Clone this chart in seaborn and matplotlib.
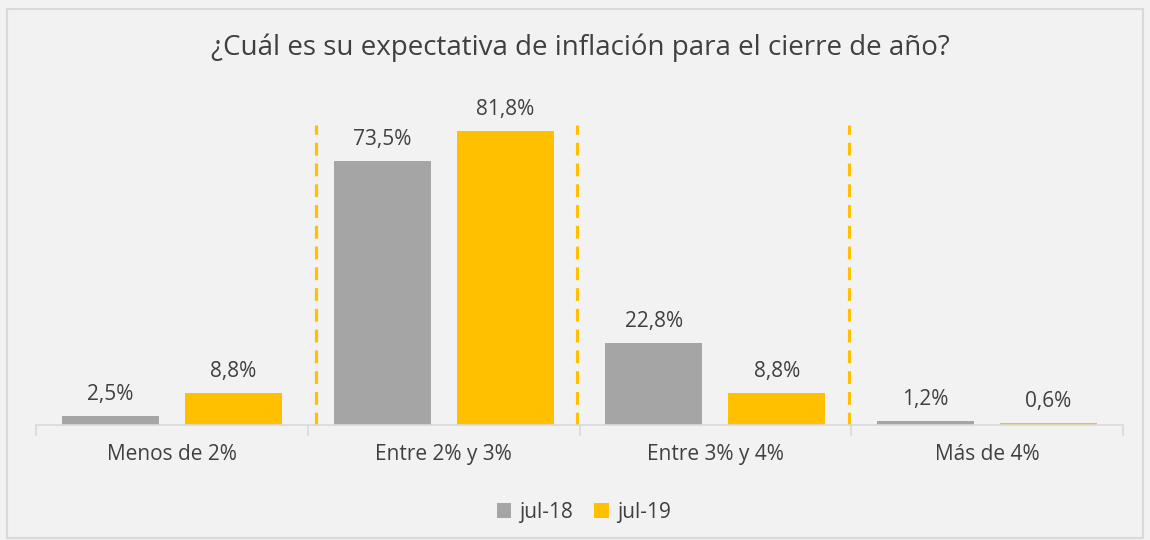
import pandas as pd
import seaborn as sns
import matplotlib.pyplot as plt
from matplotlib.patches import Rectangle

categories = ["Menos de 2%", "Entre 2% y 3%", "Entre 3% y 4%", "Más de 4%"]
periods = ["jul-18", "jul-19"]
jul18 = [2.5, 73.5, 22.8, 1.2]
jul19 = [8.8, 81.8, 8.8, 0.6]
separators = [0.53, 1.49, 2.49]

data = pd.DataFrame({
    "categoria": categories * 2,
    "periodo": [periods[0]] * 4 + [periods[1]] * 4,
    "valor": jul18 + jul19,
})

sns.set_style("white")
plt.rcParams['font.family'] = ['Open Sans', 'DejaVu Sans']

fig = plt.figure(figsize=(11.5, 5.4), dpi=100, facecolor="#f2f2f2")
ax = fig.add_axes([36 / 1150, 1 - 425 / 540, (1123 - 36) / 1150, 323 / 540])
ax.set_facecolor("#f2f2f2")

sns.barplot(data=data, x="categoria", y="valor", hue="periodo",
            palette=["#A5A5A5", "#FFC000"], width=0.905, gap=0.21,
            saturation=1, linewidth=0, ax=ax)

for cont in ax.containers:
    ax.bar_label(cont, labels=[f"{v:.1f}%".replace(".", ",") for v in cont.datavalues],
                 padding=8, fontsize=15, color="#404040")

for s in separators:
    ax.plot([s, s], [0, 83.5], color="#FFC000", lw=2.3, ls=(0, (4, 2.5)))

ax.set_xlim(-0.5, 3.5)
ax.set_ylim(0, 90)
ax.set_yticks([])
ax.set_xlabel("")
ax.set_ylabel("")
for side in ["top", "right", "left"]:
    ax.spines[side].set_visible(False)
ax.spines["bottom"].set_color("#d9d9d9")
ax.spines["bottom"].set_linewidth(1.2)
ax.set_xticks([-0.5, 0.5, 1.5, 2.5, 3.5], minor=True)
ax.tick_params(axis="x", which="major", bottom=False, length=0, pad=14,
               labelsize=15, labelcolor="#404040")
ax.tick_params(axis="x", which="minor", bottom=True, length=8, color="#d9d9d9", width=1.2)

ax.legend(loc="center", bbox_to_anchor=(0.504, -0.27), ncol=2, frameon=False,
          fontsize=15, handlelength=0.7, handleheight=0.7, handletextpad=0.4,
          columnspacing=1.0, labelcolor="#404040")

fig.text(0.505, 1 - 48 / 540, "¿Cuál es su expectativa de inflación para el cierre de año?",
         ha="center", va="center", fontsize=20, color="#404040")

fig.patches.append(Rectangle((7 / 1150, 2 / 540), 1136 / 1150, 529 / 540,
                             transform=fig.transFigure, fill=False,
                             edgecolor="#d9d9d9", lw=1.5))

fig.savefig("out.png", dpi=100, facecolor=fig.get_facecolor())
